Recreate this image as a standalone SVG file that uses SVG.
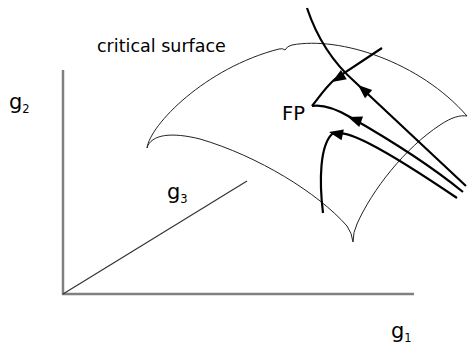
<svg xmlns="http://www.w3.org/2000/svg" xmlns:xlink="http://www.w3.org/1999/xlink" width="469" height="344" viewBox="0 0 469 344">
<style>
.axis{stroke:#808080;stroke-width:2.5;fill:none}
.diag{stroke:#333;stroke-width:1.2;fill:none}
.surf{stroke:#222;stroke-width:1;fill:none}
.flow{stroke:#000;stroke-width:2.2;fill:none}
.lbl{font-family:"DejaVu Sans",sans-serif;fill:#000}
</style>
<defs>
<path id="ah" d="M0,0 L-14,-5.5 L-14,5.5 Z" fill="#000"/>
</defs>
<g id="axes">
<line class="axis" x1="63" y1="70" x2="63" y2="295"/>
<line class="axis" x1="62" y1="294" x2="414" y2="294"/>
<line class="diag" x1="63" y1="294" x2="247" y2="181"/>
</g>
<g id="surface">
<path class="surf" d="M147,148 C150,125 205,68 279,49 Q283,48 285,50 Q287,46 292,45 C340,36 420,62 467,116"/>
<path class="surf" d="M147,148 C151,134 172,132 200,139 C258,156 318,193 347,226 Q352,233 353,242"/>
<path class="surf" d="M353,242 Q353,232 357,224 C372,190 405,148 440,125 C452,117 460,115 467,116"/>
</g>
<g id="connectors">
<path class="flow" d="M307,8 C316,35 330,60 355,82 L466,186"/>
<path class="flow" d="M312,106 C320,96 325,88 335,79 L382,48"/>
<path class="flow" d="M312,106 C325,104 338,110 350,117 C385,137 430,165 463,192"/>
<path class="flow" d="M323,213 C319,180 320,146 332,134 C345,128 380,146 457,198"/>
<use xlink:href="#ah" transform="translate(358,85) rotate(-139)"/>
<use xlink:href="#ah" transform="translate(332,82) rotate(148)"/>
<use xlink:href="#ah" transform="translate(348,117) rotate(-160)"/>
<use xlink:href="#ah" transform="translate(329,132) rotate(-168)"/>
</g>
<g id="labels">
<text class="lbl" x="97" y="52" font-size="17.5">critical surface</text>
<text class="lbl" x="282" y="120" font-size="19.5">FP</text>
<text class="lbl" x="9" y="109" font-size="21">g<tspan font-size="11.5" dy="4">2</tspan></text>
<text class="lbl" x="167" y="199" font-size="21">g<tspan font-size="11.5" dy="4">3</tspan></text>
<text class="lbl" x="391" y="338" font-size="21">g<tspan font-size="11.5" dy="4">1</tspan></text>
</g>
</svg>
